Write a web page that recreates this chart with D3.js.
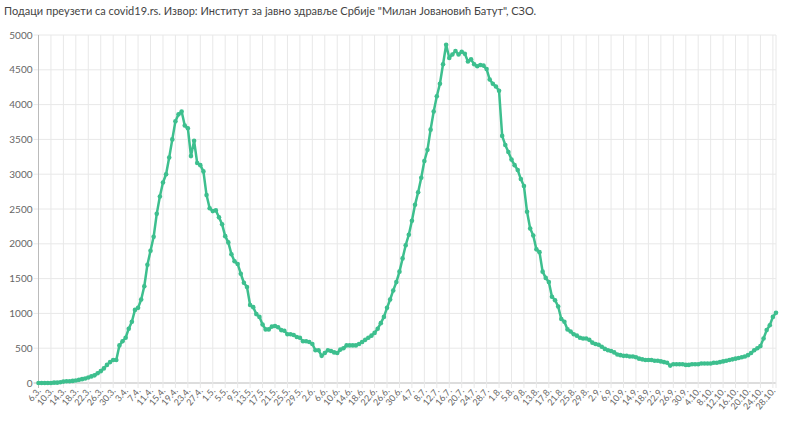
<!DOCTYPE html>
<html><head><meta charset="utf-8">
<script src="https://cdn.jsdelivr.net/npm/d3@7"></script>
<style>body{margin:0;background:#fff;font-family:Lato,"Open Sans",sans-serif}</style>
</head><body><div id="chart"></div>
<script>
// values per month, one per day, starting 6.3.
const march = [0,0,0,0,0,5,5,10,20,25,25,30,35,45,55,65,80,95,110,140,170,210,260,300,330,330];
const april = [540,600,650,780,880,1050,1080,1200,1390,1700,1900,2100,2430,2680,2880,3000,3240,3500,3760,3860,3900,3700,3660,3260,3480,3160,3130,3040,2700,2510];
const may = [2470,2480,2380,2280,2110,2020,1850,1750,1710,1570,1440,1380,1120,1090,990,950,840,770,770,810,820,800,760,750,700,700,690,660,650,600,600];
const june = [590,560,470,470,390,430,470,460,440,430,480,500,540,540,540,540,560,590,620,650,680,720,780,860,950,1080,1200,1330,1450,1600];
const july = [1790,1980,2130,2330,2560,2740,2950,3190,3350,3640,3900,4120,4300,4580,4860,4670,4720,4770,4720,4760,4730,4620,4650,4580,4550,4570,4560,4510,4360,4300,4260];
const august = [4200,3550,3420,3320,3210,3130,3060,2930,2830,2460,2220,2120,1920,1880,1600,1510,1450,1240,1190,1100,920,880,770,740,700,680,650,640,640,620,580];
const september = [560,550,520,490,470,460,440,410,400,390,390,380,380,370,350,340,330,330,330,320,320,310,300,290,250,270,270,270,270,260];
const october = [260,270,270,270,280,280,280,280,290,290,300,310,320,330,340,350,360,370,380,400,430,470,500,530,640,760,830,950,1010];
const yTicks = [0,500,1000,1500,2000,2500,3000,3500,4000,4500,5000];
const source = 'Подаци преузети са covid19.rs. Извор: Институт за јавно здравље Србије "Милан Јовановић Батут", СЗО.';

const values = [].concat(march, april, may, june, july, august, september, october);
const start = new Date(2020, 2, 6);
const labels = values.map((_, i) => {
  const d = new Date(start.getTime() + i * 864e5);
  return d.getDate() + '.' + (d.getMonth() + 1) + '.';
});
const tickIdx = d3.range(0, values.length, 4);

const W = 790, H = 425;
const m = {top: 35, right: 14, bottom: 42, left: 38.5};
const svg = d3.select('#chart').append('svg').attr('width', W).attr('height', H);

svg.append('text').attr('x', 4).attr('y', 15).attr('font-size', 11).attr('fill', '#444')
    .text(source);

const x = d3.scaleLinear().domain([0, values.length - 1]).range([m.left, W - m.right]);
const y = d3.scaleLinear().domain([0, 5000]).range([H - m.bottom, m.top]);

// grid
svg.append('g').selectAll('line').data(yTicks).join('line')
    .attr('x1', m.left - 5).attr('x2', W - m.right)
    .attr('y1', (d) => y(d)).attr('y2', (d) => y(d))
    .attr('stroke', (d) => d === 0 ? '#bbb' : '#e8e8e8');
svg.append('g').selectAll('line').data(tickIdx.concat([values.length - 1])).join('line')
    .attr('x1', (d) => x(d)).attr('x2', (d) => x(d))
    .attr('y1', m.top).attr('y2', H - m.bottom + 5)
    .attr('stroke', (d) => d === 0 ? '#bbb' : '#e8e8e8');

// y labels
svg.append('g').selectAll('text').data(yTicks).join('text')
    .attr('x', m.left - 6).attr('y', (d) => y(d)).attr('dy', '0.35em')
    .attr('text-anchor', 'end').attr('font-size', 10).attr('fill', '#666')
    .text((d) => d);

// x labels
svg.append('g').selectAll('text').data(tickIdx).join('text')
    .attr('transform', (d) => `translate(${x(d) + 3},${H - m.bottom + 8}) rotate(-50)`)
    .attr('text-anchor', 'end').attr('font-size', 9).attr('fill', '#666')
    .text((d) => labels[d]);

const color = '#3dbf8e';
svg.append('path').datum(values)
    .attr('fill', 'none').attr('stroke', color).attr('stroke-width', 2.5)
    .attr('stroke-linejoin', 'round')
    .attr('d', d3.line().x((d, i) => x(i)).y((d) => y(d)));
svg.append('g').selectAll('circle').data(values).join('circle')
    .attr('cx', (d, i) => x(i)).attr('cy', (d) => y(d)).attr('r', 2.3)
    .attr('fill', color);
</script>
</body></html>
